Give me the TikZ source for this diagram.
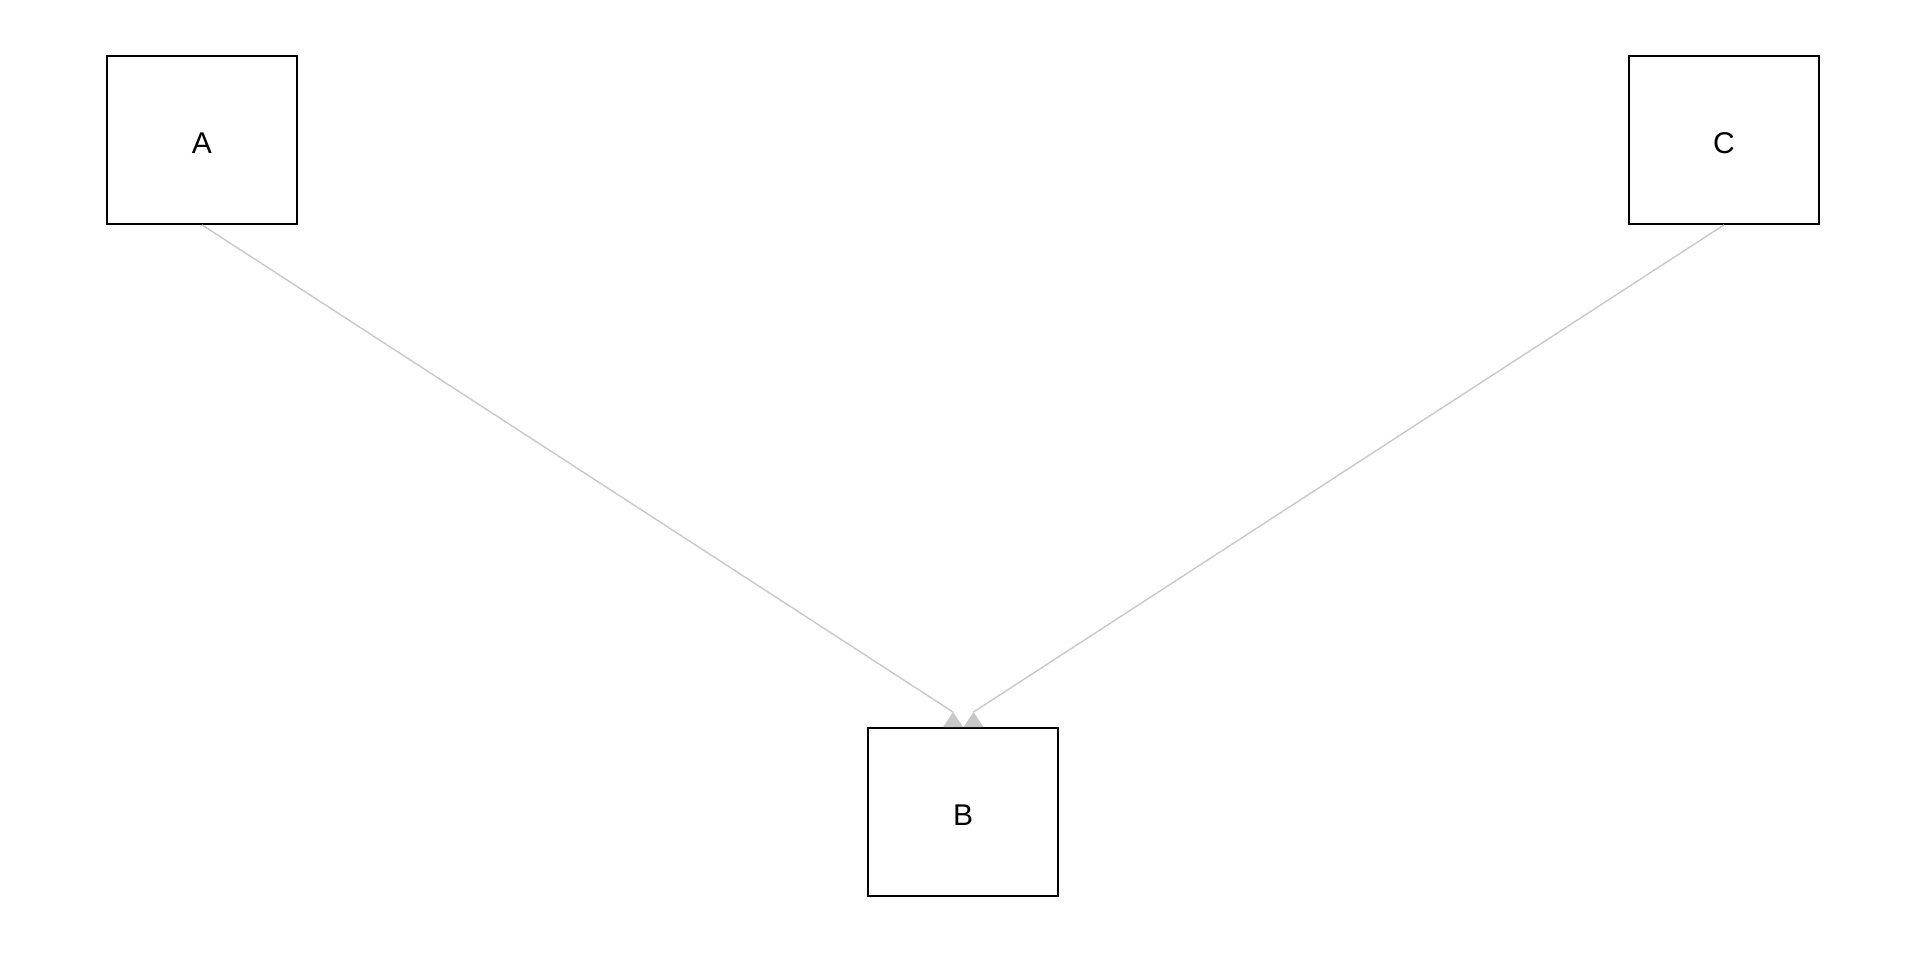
\documentclass[tikz,border=0pt]{standalone}
\usepackage{fontspec}
\setmainfont{Liberation Sans}
\usetikzlibrary{calc}
\definecolor{edgegray}{RGB}{200,200,200}
\tikzset{
  box/.style={draw=black, line width=0.85pt, fill=white, minimum width=95pt, minimum height=84pt, inner sep=0pt, text height=13.8pt, text depth=0pt, font=\fontsize{15}{17}\selectfont},
  edge/.style={draw=edgegray, line width=0.7pt},
  head/.style={fill=edgegray}
}
\begin{document}
\begin{tikzpicture}[x=0.5pt,y=-0.5pt]
\useasboundingbox (0,0) rectangle (1920,960);
\node[box] (A) at (202,140) {A};
\node[box] (C) at (1724,140) {C};
\node[box] (B) at (963,812) {B};
\coordinate (ha) at (953,712);
\coordinate (hc) at (973.5,712);
\draw[edge] (A.south) -- (ha);
\draw[edge] (C.south) -- (hc);
\fill[head] (ha) -- ($(ha)+(10,15)$) -- ($(ha)+(-10,15)$) -- cycle;
\fill[head] (hc) -- ($(hc)+(10,15)$) -- ($(hc)+(-10,15)$) -- cycle;
\end{tikzpicture}
\end{document}
